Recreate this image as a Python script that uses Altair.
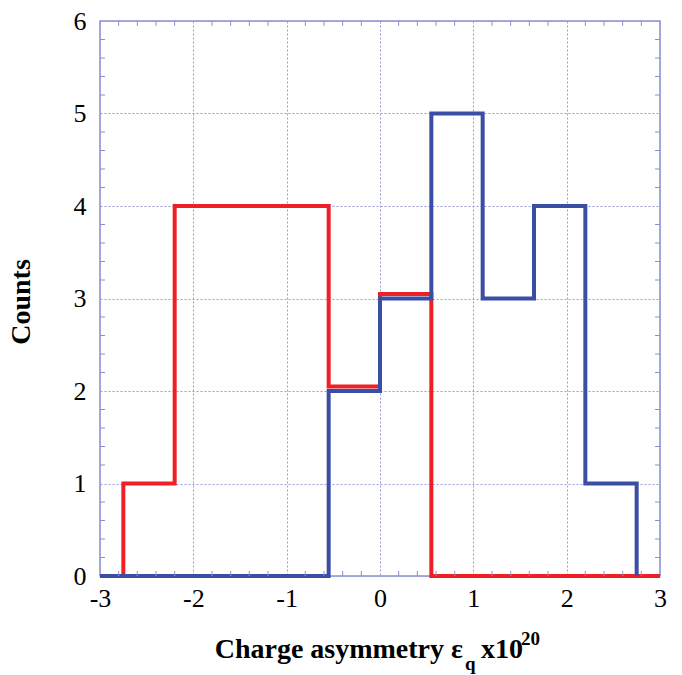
import altair as alt
import pandas as pd

# ---- data ----
x_ticks = [-3, -2, -1, 0, 1, 2, 3]
y_ticks = [0, 1, 2, 3, 4, 5, 6]

blue_edges = [-3, -0.55, 0, 0.55, 1.1, 1.65, 2.2, 2.75]
blue_counts = [0, 2, 3, 5, 3, 4, 1, 0]

red_edges = [-2.75, -2.75, -2.2, -1.65, -1.1, -0.55, 0, 0.55, 3]
red_counts = [0, 1, 4, 4, 4, 2.05, 3.05, 0, 0]

minor_x = [round(-3 + 0.2 * k, 1) for k in range(31) if k % 5 != 0]
minor_y = [round(0.2 * k, 1) for k in range(31) if k % 5 != 0]

# ---- style ----
W, H = 560, 555
RED = "#ee2026"
BLUE = "#3b4ea6"
FRAME = "#8a90cf"
GRID = "#959bdb"
FONT = "Liberation Serif"

xs = alt.Scale(domain=[-3, 3], nice=False, zero=False)
ys = alt.Scale(domain=[0, 6], nice=False, zero=False)

red_df = pd.DataFrame({"x": red_edges, "y": red_counts, "i": list(range(len(red_edges)))})
blue_df = pd.DataFrame({"x": blue_edges, "y": blue_counts, "i": list(range(len(blue_edges)))})

x_axis = alt.Axis(values=x_ticks, title=None, grid=True, ticks=False,
                  domain=False, labelFont=FONT, labelFontSize=26, labelColor="black",
                  labelPadding=9, labelFlush=False, labelOverlap=False, labelBound=False,
                  labelExpr="replace(datum.label, '\u2212', '-')",
                  gridColor=GRID, gridDash=[2, 2], gridWidth=1)
y_axis = alt.Axis(values=y_ticks, title=None, grid=True, ticks=False,
                  domain=False, labelFont=FONT, labelFontSize=26, labelColor="black",
                  labelPadding=14, labelFlush=False, labelOverlap=False, labelBound=False,
                  format="d", gridColor=GRID, gridDash=[2, 2], gridWidth=1)

red = alt.Chart(red_df).mark_line(interpolate="step-after", color=RED, strokeWidth=4).encode(
    x=alt.X("x:Q", scale=xs, axis=x_axis),
    y=alt.Y("y:Q", scale=ys, axis=y_axis),
    order="i:Q",
)
blue = alt.Chart(blue_df).mark_line(interpolate="step-after", color=BLUE, strokeWidth=4).encode(
    x=alt.X("x:Q", scale=xs, axis=x_axis),
    y=alt.Y("y:Q", scale=ys, axis=y_axis),
    order="i:Q",
)

mx = pd.DataFrame({"t": minor_x})
my = pd.DataFrame({"t": minor_y})
tick_bottom = alt.Chart(mx).mark_rule(color=FRAME, strokeWidth=1).encode(
    x=alt.X("t:Q", scale=xs, axis=x_axis), y=alt.value(H), y2=alt.value(H - 5))
tick_top = alt.Chart(mx).mark_rule(color=FRAME, strokeWidth=1).encode(
    x=alt.X("t:Q", scale=xs, axis=x_axis), y=alt.value(0), y2=alt.value(5))
tick_left = alt.Chart(my).mark_rule(color=FRAME, strokeWidth=1).encode(
    y=alt.Y("t:Q", scale=ys, axis=y_axis), x=alt.value(0), x2=alt.value(5))
tick_right = alt.Chart(my).mark_rule(color=FRAME, strokeWidth=1).encode(
    y=alt.Y("t:Q", scale=ys, axis=y_axis), x=alt.value(W), x2=alt.value(W - 5))

one = pd.DataFrame({"a": [0]})


def label(text, x, y, size, align="left", angle=0):
    kw = dict(text=text, font=FONT, fontSize=size, fontWeight="bold", color="black",
              align=align, baseline="alphabetic")
    if angle:
        kw["angle"] = angle
        kw["baseline"] = "middle"
    return alt.Chart(one).mark_text(**kw).encode(x=alt.value(x), y=alt.value(y))


t_main = label("Charge asymmetry \u03b5", 363, 637, 28, align="right")
t_sub = label("q", 365, 649, 19)
t_x10 = label("x10", 381, 637, 28)
t_sup = label("20", 421, 624, 19)
t_y = label("Counts", -78, 281, 28, align="center", angle=270)

chart = alt.layer(
    red, blue, tick_bottom, tick_top, tick_left, tick_right,
    t_main, t_sub, t_x10, t_sup, t_y,
).properties(
    width=W, height=H,
    autosize="none",
    padding={"left": 100, "top": 21, "right": 22, "bottom": 99},
    background="white",
).configure_view(stroke=FRAME, strokeWidth=1.5)

chart.save("out.html", embed_options={"renderer": "svg", "actions": False})
